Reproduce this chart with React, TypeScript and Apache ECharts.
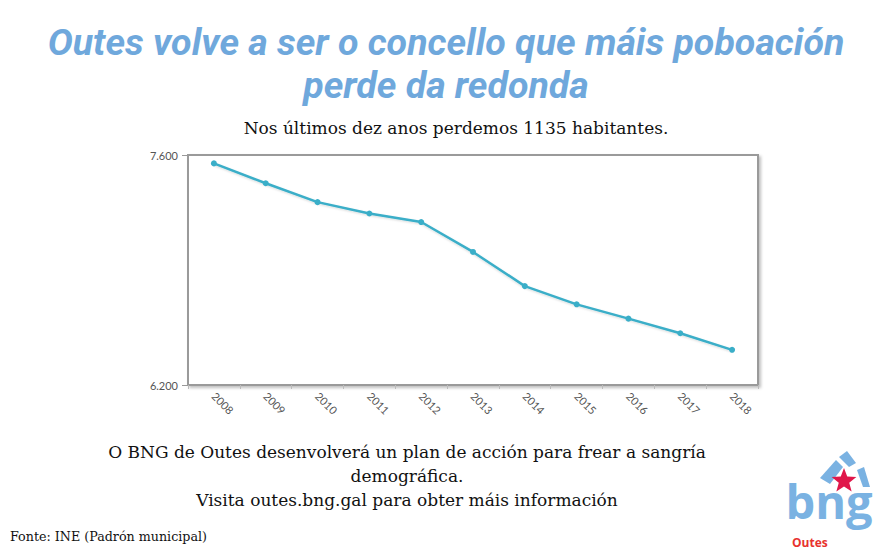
import React, { useEffect, useRef } from "react";
import * as echarts from "echarts";

const years = ["2008", "2009", "2010", "2011", "2012", "2013", "2014", "2015", "2016", "2017", "2018"];
const population = [7549, 7428, 7313, 7244, 7192, 7010, 6802, 6691, 6604, 6515, 6414];
const yTicks = [6200, 7600];

const titleLines = ["Outes volve a ser o concello que máis poboación", "perde da redonda"];
const subtitle = "Nos últimos dez anos perdemos 1135 habitantes.";
const footerLines = [
  "O BNG de Outes desenvolverá un plan de acción para frear a sangría",
  "demográfica.",
  "Visita outes.bng.gal para obter máis información",
];
const source = "Fonte: INE (Padrón municipal)";

const fmt = (v: number) => String(v).replace(/\B(?=(\d{3})+(?!\d))/g, ".");

function starPoints(cx: number, cy: number, R: number, r: number): number[][] {
  const pts: number[][] = [];
  for (let i = 0; i < 10; i++) {
    const a = -Math.PI / 2 + (i * Math.PI) / 5;
    const rad = i % 2 === 0 ? R : r;
    pts.push([cx + rad * Math.cos(a), cy + rad * Math.sin(a)]);
  }
  return pts;
}

export default function App() {
  const ref = useRef<HTMLDivElement>(null);
  useEffect(() => {
    const chart = echarts.init(ref.current!, null, { renderer: "svg" });
    const blue = "#6fa8dc";
    const logoBlue = "#7ab2e2";
    const serif = "'DejaVu Serif', serif";
    chart.setOption({
      animation: false,
      backgroundColor: "#ffffff",
      grid: {
        left: 188,
        top: 155,
        width: 570,
        height: 230,
        show: true,
        backgroundColor: "#ffffff",
        borderColor: "#9a9a9a",
        borderWidth: 2,
        shadowColor: "rgba(0,0,0,0.25)",
        shadowBlur: 3,
        shadowOffsetX: 2,
        shadowOffsetY: 2,
      },
      xAxis: {
        type: "category",
        data: years,
        boundaryGap: true,
        axisLine: { show: true, lineStyle: { color: "#9a9a9a", width: 2 } },
        axisTick: { show: true, length: 4, lineStyle: { color: "#bbbbbb" } },
        axisLabel: {
          rotate: -45,
          margin: 9,
          color: "#555555",
          fontSize: 11,
          fontFamily: "Lato, 'Open Sans', sans-serif",
        },
        splitLine: { show: false },
      },
      yAxis: {
        type: "value",
        min: 6200,
        max: 7600,
        axisLine: { show: true, lineStyle: { color: "#9a9a9a", width: 2 } },
        axisTick: { show: true, length: 6, customValues: yTicks, lineStyle: { color: "#999999" } },
        axisLabel: {
          customValues: yTicks,
          formatter: (v: number) => fmt(v),
          color: "#555555",
          fontSize: 11,
          margin: 10,
          fontFamily: "Lato, 'Open Sans', sans-serif",
        },
        splitLine: { show: false },
      },
      series: [
        {
          type: "line",
          data: population,
          symbol: "circle",
          symbolSize: 6,
          lineStyle: {
            color: "#3aaec8",
            width: 2.5,
            shadowColor: "rgba(0,0,0,0.15)",
            shadowBlur: 2,
            shadowOffsetY: 1,
          },
          itemStyle: { color: "#3aaec8" },
        },
      ],
      graphic: [
        {
          type: "text",
          x: 446,
          y: 42,
          style: {
            text: titleLines[0],
            textAlign: "center",
            textVerticalAlign: "middle",
            font: "italic bold 37.5px Roboto, sans-serif",
            fill: blue,
          },
        },
        {
          type: "text",
          x: 446,
          y: 85,
          style: {
            text: titleLines[1],
            textAlign: "center",
            textVerticalAlign: "middle",
            font: "italic bold 37.5px Roboto, sans-serif",
            fill: blue,
          },
        },
        {
          type: "text",
          x: 456,
          y: 128,
          style: {
            text: subtitle,
            textAlign: "center",
            textVerticalAlign: "middle",
            font: "17px " + serif,
            fill: "#111111",
          },
        },
        ...footerLines.map((t, i) => ({
          type: "text",
          x: 407,
          y: 452 + i * 24,
          style: {
            text: t,
            textAlign: "center",
            textVerticalAlign: "middle",
            font: "17px " + serif,
            fill: "#111111",
          },
        })),
        {
          type: "text",
          x: 10,
          y: 536,
          style: {
            text: source,
            textAlign: "left",
            textVerticalAlign: "middle",
            font: "12.7px " + serif,
            fill: "#111111",
          },
        },
        // logo
        {
          type: "polygon",
          shape: { points: [[820, 478], [836, 460], [843, 467], [830, 484]] },
          style: { fill: logoBlue },
        },
        {
          type: "polygon",
          shape: { points: [[839, 457], [847, 451], [856, 463], [849, 467]] },
          style: { fill: logoBlue },
        },
        {
          type: "polygon",
          shape: { points: [[857, 470], [864, 467], [870, 487], [863, 487]] },
          style: { fill: logoBlue },
        },
        {
          type: "polygon",
          shape: { points: starPoints(844, 481, 13, 5.5) },
          style: { fill: "#e0174a" },
        },
        {
          type: "text",
          x: 829,
          y: 501,
          style: {
            text: "bng",
            textAlign: "center",
            textVerticalAlign: "middle",
            font: "bold 47px 'Open Sans', Roboto, sans-serif",
            lineHeight: 40,
            fill: logoBlue,
          },
        },
        {
          type: "text",
          x: 792,
          y: 542,
          style: {
            text: "Outes",
            textAlign: "left",
            textVerticalAlign: "middle",
            font: "bold 12px 'Open Sans', Roboto, sans-serif",
            lineHeight: 12,
            fill: "#e8322e",
          },
        },
      ],
    });
    return () => chart.dispose();
  }, []);
  return (
    <div
      ref={ref}
      style={{ position: "absolute", left: 0, top: 0, width: 893, height: 558 }}
    />
  );
}
